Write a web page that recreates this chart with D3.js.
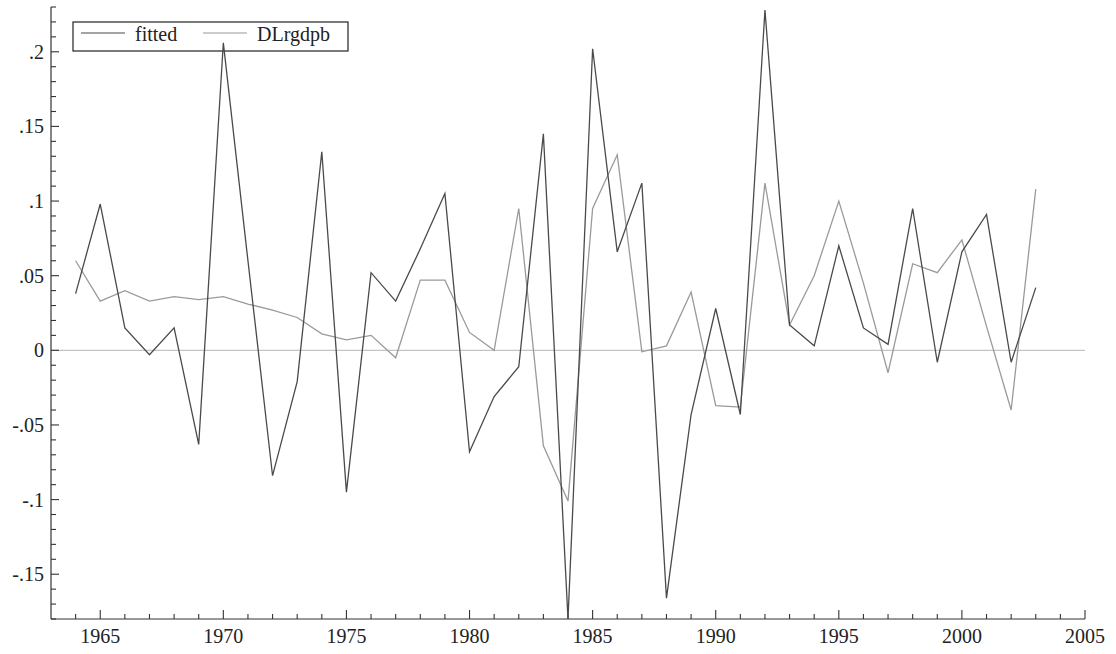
<!DOCTYPE html>
<html>
<head>
<meta charset="utf-8">
<style>
    body { margin: 0; background: #fff; }
    svg { display: block; }
    text { font-family: "Liberation Serif", "Times New Roman", serif; fill: #222; }
</style>
</head>
<body>
<svg id="chart" width="1116" height="654"></svg>
<script src="https://cdnjs.cloudflare.com/ajax/libs/d3/7.8.5/d3.min.js"></script>
<script>
    // years on the x axis
    var years = d3.range(1964, 2004);

    // series
    var fitted = [0.038, 0.098, 0.015, -0.003, 0.015, -0.063, 0.206, 0.060, -0.084, -0.021,
                  0.133, -0.095, 0.052, 0.033, 0.068, 0.105, -0.068, -0.031, -0.011, 0.145,
                  -0.180, 0.202, 0.066, 0.112, -0.166, -0.043, 0.028, -0.043, 0.228, 0.017,
                  0.003, 0.070, 0.015, 0.004, 0.095, -0.008, 0.066, 0.091, -0.008, 0.042];
    var dlrgdpb = [0.060, 0.033, 0.040, 0.033, 0.036, 0.034, 0.036, 0.031, 0.027, 0.022,
                   0.011, 0.007, 0.010, -0.005, 0.047, 0.047, 0.012, 0.000, 0.095, -0.064,
                   -0.101, 0.095, 0.131, -0.001, 0.003, 0.039, -0.037, -0.038, 0.112, 0.017,
                   0.050, 0.100, 0.045, -0.015, 0.058, 0.052, 0.074, 0.016, -0.040, 0.108];

    var seriesNames = ["fitted", "DLrgdpb"];
    var yTickValues = [-0.15, -0.1, -0.05, 0, 0.05, 0.1, 0.15, 0.2];
    var yTickLabels = ["-.15", "-.1", "-.05", "0", ".05", ".1", ".15", ".2"];
    var xTickValues = [1965, 1970, 1975, 1980, 1985, 1990, 1995, 2000, 2005];

    var svg = d3.select("#chart");
    var x = d3.scaleLinear().domain([1963, 2005]).range([51, 1085]);
    var y = d3.scaleLinear().domain([-0.18, 0.23]).range([619, 7]);

    var axisColor = "#333";

    // zero line
    svg.append("line")
        .attr("x1", x(1963)).attr("x2", x(2005))
        .attr("y1", y(0)).attr("y2", y(0))
        .attr("stroke", "#c4c4c4").attr("stroke-width", 1.2);

    // x axis: minor ticks every year, major every 5, pointing up
    var xAxis = svg.append("g");
    xAxis.append("line")
        .attr("x1", x(1963)).attr("x2", x(2005))
        .attr("y1", y(-0.18)).attr("y2", y(-0.18))
        .attr("stroke", axisColor).attr("stroke-width", 1.2);
    xAxis.selectAll(".xt").data(d3.range(1964, 2006)).enter().append("line")
        .attr("x1", d => x(d)).attr("x2", d => x(d))
        .attr("y1", y(-0.18)).attr("y2", d => y(-0.18) - (d % 5 === 0 ? 9 : 5))
        .attr("stroke", axisColor).attr("stroke-width", 1.1);
    xAxis.selectAll(".xl").data(xTickValues).enter().append("text")
        .attr("x", d => x(d)).attr("y", 643)
        .attr("text-anchor", "middle").attr("font-size", 20)
        .text(d => d);

    // y axis: minor ticks every .01, pointing right
    var yAxis = svg.append("g");
    yAxis.append("line")
        .attr("x1", x(1963)).attr("x2", x(1963))
        .attr("y1", y(-0.18)).attr("y2", y(0.23))
        .attr("stroke", axisColor).attr("stroke-width", 1.2);
    var minorY = d3.range(-18, 24).map(d => d / 100);
    yAxis.selectAll(".yt").data(minorY).enter().append("line")
        .attr("x1", x(1963)).attr("y1", d => y(d)).attr("y2", d => y(d))
        .attr("x2", d => x(1963) + (Math.round(d * 100) % 5 === 0 ? 8 : 5))
        .attr("stroke", axisColor).attr("stroke-width", 1.1);
    yAxis.selectAll(".yl").data(yTickValues).enter().append("text")
        .attr("x", 44).attr("y", d => y(d) + 7)
        .attr("text-anchor", "end").attr("font-size", 20)
        .text((d, i) => yTickLabels[i]);

    // legend
    var colors = ["#4a4a4a", "#9a9a9a"];
    var legend = svg.append("g");
    legend.append("rect")
        .attr("x", 73).attr("y", 22).attr("width", 275).attr("height", 29)
        .attr("fill", "none").attr("stroke", "#222").attr("stroke-width", 1.2);
    var legendX = [81, 203];
    seriesNames.forEach(function (name, i) {
        legend.append("line")
            .attr("x1", legendX[i]).attr("x2", legendX[i] + 44)
            .attr("y1", 33).attr("y2", 33)
            .attr("stroke", colors[i]).attr("stroke-width", 1.2);
        legend.append("text")
            .attr("x", legendX[i] + 54).attr("y", 41)
            .attr("font-size", 20)
            .text(name);
    });

    // series lines
    var line = d3.line()
        .x((d, i) => x(years[i]))
        .y(d => y(d));

    svg.append("path").datum(dlrgdpb)
        .attr("d", line).attr("fill", "none")
        .attr("stroke", colors[1]).attr("stroke-width", 1.3);
    svg.append("path").datum(fitted)
        .attr("d", line).attr("fill", "none")
        .attr("stroke", colors[0]).attr("stroke-width", 1.3);
</script>
</body>
</html>
